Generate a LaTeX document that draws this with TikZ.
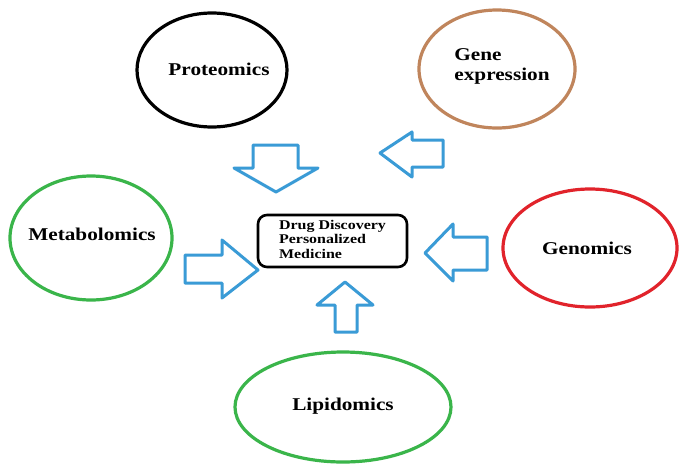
\documentclass[tikz,border=0pt]{standalone}
\usepackage{fontspec}
\usepackage{graphicx}
\setmainfont{Liberation Serif}
\usetikzlibrary{shapes.geometric}
\definecolor{genec}{RGB}{192,133,92}
\definecolor{greenc}{RGB}{58,181,74}
\definecolor{redc}{RGB}{225,35,43}
\definecolor{bluec}{RGB}{58,155,214}
\newcommand{\wlbl}[1]{\scalebox{1.18}[1]{#1}}
\begin{document}
\begin{tikzpicture}[x=1pt,y=-1pt,
  omic/.style={ellipse, draw, line width=3.2pt, inner sep=0pt},
  omiclabel/.style={inner sep=0pt, font=\bfseries\fontsize{18}{20}\selectfont},
  blockarrow/.style={draw=bluec, line width=3pt, line join=round, fill=white},
  hub/.style={draw, line width=2.6pt, rounded corners=9pt, minimum width=149pt,
    minimum height=52pt, inner sep=0pt, font=\bfseries\fontsize{13.3}{14.5}\selectfont}]
\fill[white] (0,0) rectangle (682,464);
\useasboundingbox (0,0) rectangle (682,464);

% ellipses
\node[omic, draw=black, minimum width=150pt, minimum height=114pt] (prot) at (212,70) {};
\node[omiclabel] (protT) at (219,69) {\wlbl{Proteomics}};

\node[omic, draw=genec, minimum width=156pt, minimum height=118pt] (gene) at (497,69) {};
\node[omiclabel, align=left] (geneT) at (502,66) {\wlbl{\begin{tabular}{@{}l@{}}Gene\\expression\end{tabular}}};

\node[omic, draw=greenc, minimum width=162pt, minimum height=124pt] (meta) at (91,238) {};
\node[omiclabel] (metaT) at (92,234) {\wlbl{Metabolomics}};

\node[omic, draw=redc, minimum width=174pt, minimum height=118pt] (geno) at (590,248) {};
\node[omiclabel] (genoT) at (587,248) {\wlbl{Genomics}};

\node[omic, draw=greenc, minimum width=216pt, minimum height=110pt] (lipi) at (343,407) {};
\node[omiclabel] (lipiT) at (343,406) {\wlbl{Lipidomics}};

% hub
\node[hub] (hub) at (332.5,241) {\scalebox{1.2}[1]{\begin{tabular}{@{}l@{}}Drug Discovery\\Personalized\\Medicine\end{tabular}}};

% block arrows
\draw[blockarrow] (253,145) -- (298,145) -- (298,168) -- (318,168) -- (276,192) -- (234,168) -- (253,168) -- cycle;
\draw[blockarrow] (380,153) -- (412,132) -- (412,140) -- (443,140) -- (443,167) -- (412,167) -- (412,177) -- cycle;
\draw[blockarrow] (185,255) -- (222,255) -- (222,240) -- (258,270) -- (222,298) -- (222,283) -- (185,283) -- cycle;
\draw[blockarrow] (425,253) -- (453,224) -- (453,237) -- (487,237) -- (487,270) -- (453,270) -- (453,281) -- cycle;
\draw[blockarrow] (345,282) -- (373,305) -- (357,305) -- (357,332) -- (335,332) -- (335,305) -- (317,305) -- cycle;
\end{tikzpicture}
\end{document}
